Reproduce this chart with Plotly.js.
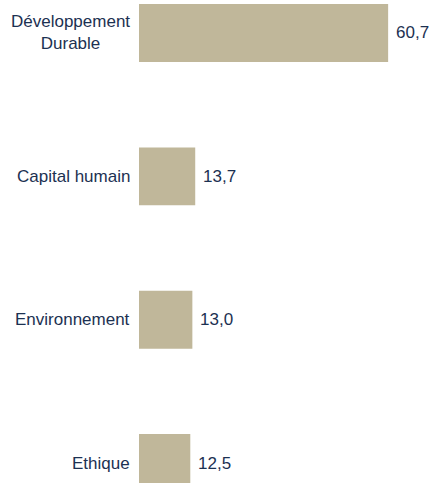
<!DOCTYPE html>
<html><head><meta charset="utf-8">
<script src="https://cdn.plot.ly/plotly-3.0.1.min.js"></script>
<style>body{margin:0;background:#fff}#c{width:430px;height:483px}</style>
</head><body><div id="c"></div>
<script>
const categories = ["Développement<br>Durable", "Capital humain", "Environnement", "Ethique"];
const values = [60.7, 13.7, 13.0, 12.5];
const valueLabels = ["60,7", "13,7", "13,0", "12,5"];

const textColor = "#1c3152";
const fontFam = "Liberation Sans, Arial, sans-serif";
const annotations = [];
categories.forEach((c, i) => {
  annotations.push({xref: "paper", yref: "y", x: 0, y: c, text: c, showarrow: false,
    xanchor: "right", yanchor: "middle", align: "center", xshift: -7,
    font: {family: fontFam, size: 17, color: textColor}});
  annotations.push({xref: "x", yref: "y", x: values[i], y: c, text: valueLabels[i], showarrow: false,
    xanchor: "left", yanchor: "middle", xshift: 6,
    font: {family: fontFam, size: 17, color: textColor}});
});

Plotly.newPlot("c", [{
  type: "bar",
  orientation: "h",
  y: categories,
  x: values,
  width: 0.404,
  marker: {color: "#c0b79a"},
  hoverinfo: "none"
}], {
  width: 430, height: 483,
  margin: {l: 139, r: 0, t: 0, b: 0},
  paper_bgcolor: "#fff", plot_bgcolor: "#fff",
  showlegend: false,
  font: {family: fontFam, size: 17, color: textColor},
  annotations: annotations,
  xaxis: {range: [0, 70.9], visible: false, fixedrange: true},
  yaxis: {type: "category", range: [3.139, -0.23], showgrid: false, zeroline: false,
          showline: false, showticklabels: false, fixedrange: true}
}, {staticPlot: true});
</script></body></html>
